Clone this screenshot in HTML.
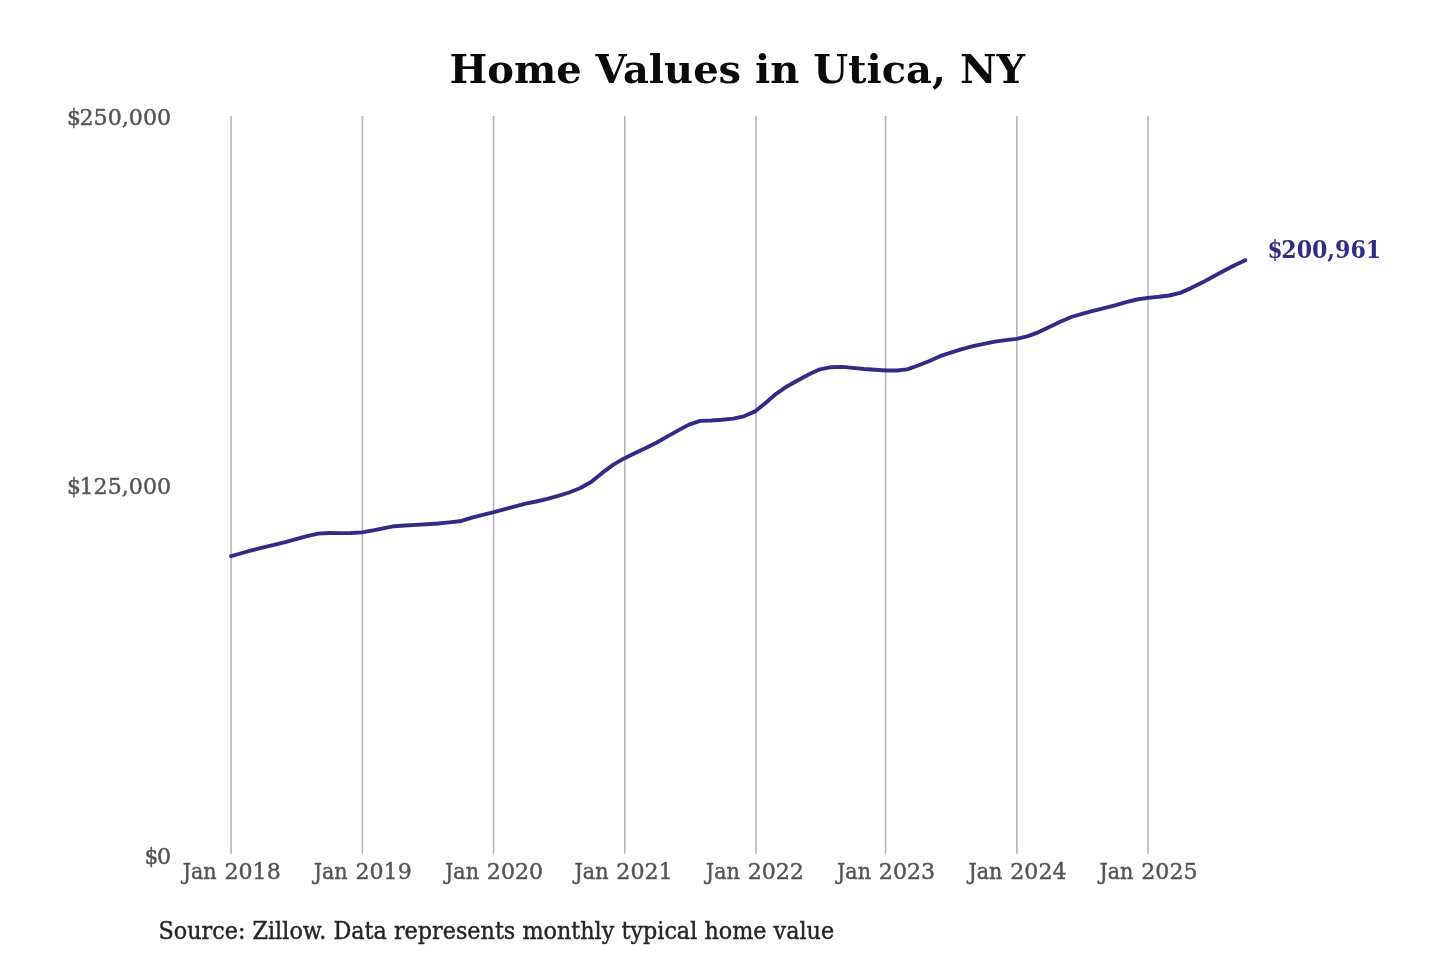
<!DOCTYPE html>
<html lang="en">
<head>
<meta charset="utf-8">
<title>Home Values in Utica, NY</title>
<style>
html,body{margin:0;padding:0;background:#fff;}
body{width:1440px;height:960px;overflow:hidden;font-family:"DejaVu Serif","Liberation Serif",serif;}
svg{display:block;}
svg text{font-family:"DejaVu Serif","Liberation Serif",serif;}
.title{font-size:40px;font-weight:bold;fill:#0a0a0a;text-anchor:middle;}
.ylab text{font-size:21.85px;fill:#555;stroke:#555;stroke-width:.42;text-anchor:end;}
.xlab text{font-size:21.85px;fill:#555;stroke:#555;stroke-width:.42;text-anchor:start;}
.grid line{stroke:#b6b6b6;stroke-width:1.6;}
.src{font-size:22.3px;fill:#262626;stroke:#262626;stroke-width:.4;}
.end{font-size:21.85px;font-weight:bold;fill:#322c86;}
.series{fill:none;stroke:#322c86;stroke-width:3.9;stroke-linejoin:round;stroke-linecap:round;}
</style>
</head>
<body>
<svg width="1440" height="960" viewBox="0 0 1440 960">
<rect width="1440" height="960" fill="#ffffff"/>
<text class="title" transform="translate(737.20 83.40) scale(1 0.99)">Home Values in Utica, NY</text>
<g class="grid">
<line x1="231.10" y1="116" x2="231.10" y2="853.8"/>
<line x1="362.35" y1="116" x2="362.35" y2="853.8"/>
<line x1="493.60" y1="116" x2="493.60" y2="853.8"/>
<line x1="624.80" y1="116" x2="624.80" y2="853.8"/>
<line x1="756.00" y1="116" x2="756.00" y2="853.8"/>
<line x1="885.60" y1="116" x2="885.60" y2="853.8"/>
<line x1="1016.90" y1="116" x2="1016.90" y2="853.8"/>
<line x1="1148.00" y1="116" x2="1148.00" y2="853.8"/>
</g>
<g class="ylab">
<text transform="translate(171.1 124.5) scale(1 1.03)"><tspan>$</tspan><tspan dx="-1.4" textLength="91.64" lengthAdjust="spacingAndGlyphs">250,000</tspan></text>
<text transform="translate(171.1 494.05) scale(1 1.03)"><tspan>$</tspan><tspan dx="-1.4" textLength="91.64" lengthAdjust="spacingAndGlyphs">125,000</tspan></text>
<text transform="translate(171.1 864.05) scale(1 1.03)"><tspan>$</tspan><tspan dx="-1.4" textLength="14.1" lengthAdjust="spacingAndGlyphs">0</tspan></text>
</g>
<g class="xlab">
<text transform="translate(182.67 879.2) scale(1 1.045)"><tspan textLength="33.96" lengthAdjust="spacingAndGlyphs">Jan</tspan> <tspan x="41.8" textLength="56.25" lengthAdjust="spacingAndGlyphs">2018</tspan></text>
<text transform="translate(313.67 879.2) scale(1 1.045)"><tspan textLength="33.96" lengthAdjust="spacingAndGlyphs">Jan</tspan> <tspan x="41.8" textLength="56.25" lengthAdjust="spacingAndGlyphs">2019</tspan></text>
<text transform="translate(445.07 879.2) scale(1 1.045)"><tspan textLength="33.96" lengthAdjust="spacingAndGlyphs">Jan</tspan> <tspan x="41.8" textLength="56.25" lengthAdjust="spacingAndGlyphs">2020</tspan></text>
<text transform="translate(574.57 879.2) scale(1 1.045)"><tspan textLength="33.96" lengthAdjust="spacingAndGlyphs">Jan</tspan> <tspan x="41.8" textLength="56.25" lengthAdjust="spacingAndGlyphs">2021</tspan></text>
<text transform="translate(705.87 879.2) scale(1 1.045)"><tspan textLength="33.96" lengthAdjust="spacingAndGlyphs">Jan</tspan> <tspan x="41.8" textLength="56.25" lengthAdjust="spacingAndGlyphs">2022</tspan></text>
<text transform="translate(837.07 879.2) scale(1 1.045)"><tspan textLength="33.96" lengthAdjust="spacingAndGlyphs">Jan</tspan> <tspan x="41.8" textLength="56.25" lengthAdjust="spacingAndGlyphs">2023</tspan></text>
<text transform="translate(968.47 879.2) scale(1 1.045)"><tspan textLength="33.96" lengthAdjust="spacingAndGlyphs">Jan</tspan> <tspan x="41.8" textLength="56.25" lengthAdjust="spacingAndGlyphs">2024</tspan></text>
<text transform="translate(1099.47 879.2) scale(1 1.045)"><tspan textLength="33.96" lengthAdjust="spacingAndGlyphs">Jan</tspan> <tspan x="41.8" textLength="56.25" lengthAdjust="spacingAndGlyphs">2025</tspan></text>
</g>
<path class="series" d="M231.1,556.2 L242.2,553.0 L252.3,550.1 L263.4,547.4 L274.1,544.8 L285.2,542.1 L296.0,539.1 L307.1,536.1 L318.2,533.6 L329.0,533.0 L340.1,533.1 L350.9,533.0 L362.0,532.4 L373.1,530.3 L383.1,528.3 L394.3,526.2 L405.0,525.5 L416.1,524.9 L426.9,524.2 L438.0,523.5 L449.1,522.4 L459.9,521.3 L471.0,517.9 L481.8,515.1 L492.9,512.4 L504.0,509.4 L514.4,506.6 L525.5,503.7 L536.3,501.5 L547.4,498.9 L558.1,495.9 L569.2,492.5 L580.4,488.0 L591.1,482.0 L602.2,472.9 L613.0,464.9 L624.1,458.4 L635.2,453.1 L645.3,448.3 L656.4,442.7 L667.1,436.6 L678.2,430.4 L689.0,424.6 L700.1,420.9 L711.2,420.5 L722.0,419.8 L733.1,418.6 L743.9,416.3 L755.0,411.4 L766.1,402.5 L776.1,393.8 L787.3,386.2 L798.0,380.2 L809.1,374.2 L819.9,369.3 L831.0,367.2 L842.1,366.9 L852.9,367.9 L864.0,369.0 L874.8,369.8 L885.9,370.5 L897.0,370.5 L907.0,369.4 L918.1,365.5 L928.9,361.2 L940.0,356.2 L950.8,352.6 L961.9,349.1 L973.0,346.1 L983.8,343.8 L994.9,341.6 L1005.6,340.1 L1016.8,338.9 L1027.9,336.2 L1038.3,332.3 L1049.4,327.1 L1060.2,321.8 L1071.3,317.0 L1082.0,313.9 L1093.1,310.9 L1104.2,308.1 L1115.0,305.3 L1126.1,302.1 L1136.9,299.5 L1148.0,297.9 L1159.1,296.8 L1169.2,295.5 L1180.3,292.9 L1191.0,288.1 L1202.2,282.6 L1212.9,276.7 L1224.0,270.7 L1235.1,265.0 L1245.3,260.2"/>
<text class="end" transform="translate(1267.4 258.2) scale(1 1.08)"><tspan>$</tspan><tspan dx="-1.3" textLength="99.8" lengthAdjust="spacingAndGlyphs">200,961</tspan></text>
<text class="src" transform="translate(158.50 938.70) scale(1 1.05)">Source: Zillow. Data represents monthly typical home value</text>
</svg>
</body>
</html>
